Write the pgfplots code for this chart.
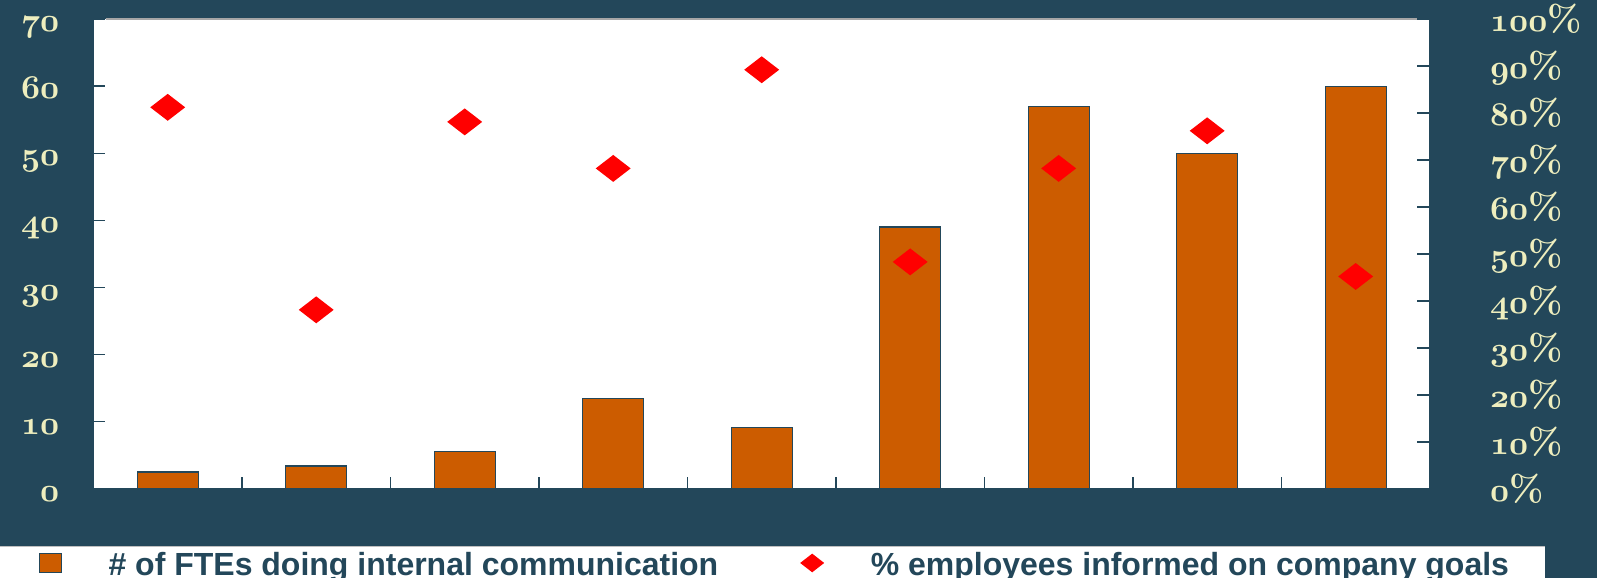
\documentclass[border=0pt]{standalone}
\usepackage{fontspec}
\usepackage{pgfplots}
\pgfplotsset{compat=1.18}
\newfontfamily\lsans{Liberation Sans}
\definecolor{bgc}{RGB}{35,71,90}
\definecolor{barc}{RGB}{204,92,0}
\definecolor{cream}{RGB}{238,238,190}
\pgfdeclareplotmark{wdiamond}{%
  \pgfpathmoveto{\pgfqpoint{13.1pt}{0pt}}%
  \pgfpathlineto{\pgfqpoint{0pt}{10.1pt}}%
  \pgfpathlineto{\pgfqpoint{-13.1pt}{0pt}}%
  \pgfpathlineto{\pgfqpoint{0pt}{-10.1pt}}%
  \pgfpathclose\pgfusepathqfill}
\pgfdeclareplotmark{ldiamond}{%
  \pgfpathmoveto{\pgfqpoint{9pt}{0pt}}%
  \pgfpathlineto{\pgfqpoint{0pt}{7pt}}%
  \pgfpathlineto{\pgfqpoint{-9pt}{0pt}}%
  \pgfpathlineto{\pgfqpoint{0pt}{-7pt}}%
  \pgfpathclose\pgfusepathqfill}
\pgfplotsset{
  barlegend/.style={legend image code/.code={\draw[fill=barc,draw=bgc,line width=0.9pt] (0pt,-5.4pt) rectangle (16.5pt,8.6pt);}},
  dialegend/.style={legend image code/.code={\draw[red,fill=red,mark=ldiamond] plot coordinates {(9pt,1.5pt)};}},
}
\newcommand\os[1]{{\boldmath$\mathnormal{#1}$}}
\newcommand\osp[1]{{\boldmath$\mathnormal{#1}$\bfseries\%}}
\begin{document}
\begin{tikzpicture}
\fill[bgc] (-69.75pt,-66.75pt) rectangle (1128pt,366.75pt);
\fill[white] (-69.75pt,-66.75pt) rectangle (1089pt,-43.5pt);
\draw[gray!50, line width=0.75pt] (-69.75pt,-43.5pt) -- (1089pt,-43.5pt);
\begin{axis}[
  scale only axis, width=1002.75pt, height=352.5pt,
  xmin=-0.5, xmax=8.5, ymin=0, ymax=70,
  axis background/.style={fill=white},
  axis x line*=bottom, axis y line*=left,
  axis line style={draw=bgc, line width=1pt},
  xtick={0.5,1.5,...,7.5}, xticklabels={},
  ytick={0,10,...,70},
  yticklabels={\os{0},\os{10},\os{20},\os{30},\os{40},\os{50},\os{60},\os{70}},
  tick align=inside, major tick length=9pt,
  tick style={draw=bgc, line width=1pt},
  yticklabel style={font=\fontsize{28}{28}\selectfont, text=cream, anchor=base east, inner sep=0pt, xshift=-25.5pt, yshift=-9.4pt},
]
\addplot[ybar, bar width=45.75pt, fill=barc, draw=bgc, line width=0.9pt] coordinates {(0,2.5) (1,3.4) (2,5.6) (3,13.5) (4,9.1) (5,39) (6,57) (7,50) (8,60)};
\draw[gray!70, line width=1.2pt] (rel axis cs:0.009,1) -- (rel axis cs:0.99,1);
\end{axis}
\begin{axis}[
  scale only axis, width=1002.75pt, height=352.5pt,
  xmin=-0.5, xmax=8.5, ymin=0, ymax=100,
  axis x line=none, axis y line*=right,
  axis line style={draw=bgc, line width=1pt},
  ytick={0,10,...,100},
  yticklabels={\osp{0},\osp{10},\osp{20},\osp{30},\osp{40},\osp{50},\osp{60},\osp{70},\osp{80},\osp{90},\osp{100}},
  tick align=inside, major tick length=9.75pt,
  tick style={draw=bgc, line width=1pt},
  yticklabel style={font=\fontsize{27.5}{27.5}\selectfont, text=cream, anchor=base west, inner sep=0pt, xshift=45pt, yshift=-9.4pt},
  legend columns=2,
  legend style={draw=none, fill=none, at={(-0.04114,-0.162)}, anchor=west, inner sep=0pt,
    font=\lsans\bfseries\fontsize{24}{24}\selectfont, text=bgc, nodes={inner sep=0pt},
    /tikz/every odd column/.append style={column sep=35pt},
    /tikz/every even column/.append style={column sep=61.5pt}},
]
\addlegendimage{barlegend}
\addlegendentry{\# of FTEs doing internal communication}
\addplot[only marks, mark=wdiamond, color=red, dialegend]
  coordinates {(0,81.2) (1,38.1) (2,78.1) (3,68.2) (4,89.2) (5,48.3) (6,68.2) (7,76.2) (8,45.2)};
\addlegendentry{\% employees informed on company goals}
\end{axis}
\end{tikzpicture}
\end{document}
